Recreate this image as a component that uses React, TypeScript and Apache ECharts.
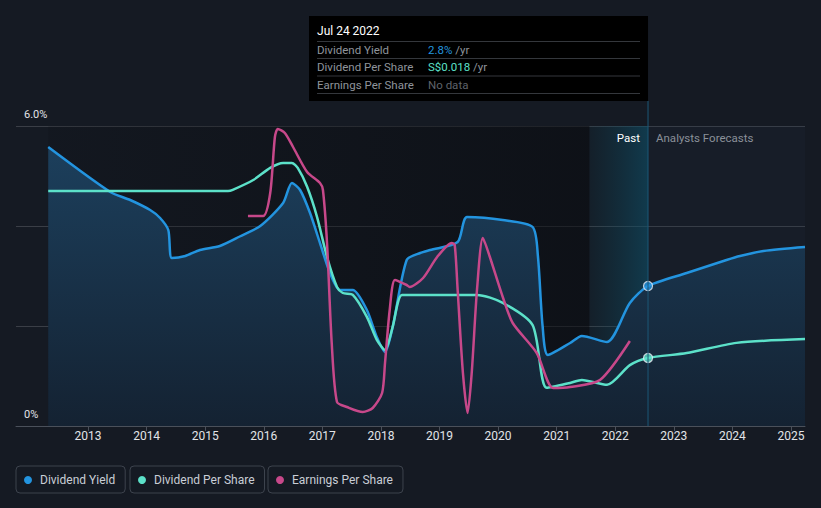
import React, { useEffect, useRef } from 'react';
import * as echarts from 'echarts';

const BG = '#151a23';
const FONT = 'Roboto, "Noto Sans", sans-serif';

const yearTicks = [2013, 2014, 2015, 2016, 2017, 2018, 2019, 2020, 2021, 2022, 2023, 2024, 2025];
const X_MIN = 2011.77;
const X_MAX = 2025.24;
const TODAY = 2022.56;
const PAST_BAND_START = 2021.56;
const DATA_START = 2012.32;

const yieldYears = [2012.32, 2013.38, 2013.72, 2014.06, 2014.23, 2014.37, 2014.43, 2014.66, 2014.91, 2015.25, 2015.59, 2015.94, 2016.33, 2016.48, 2016.62, 2016.79, 2016.96, 2017.13, 2017.30, 2017.52, 2017.76, 2017.93, 2018.07, 2018.20, 2018.44, 2018.67, 2018.84, 2019.31, 2019.47, 2020.08, 2020.59, 2020.68, 2020.76, 2020.85, 2021.23, 2021.43, 2021.86, 2022.25, 2022.56, 2023.22, 2023.90, 2024.13, 2024.53, 2025.24];
const yieldValues = [5.58, 4.68, 4.52, 4.32, 4.16, 3.92, 3.36, 3.40, 3.52, 3.60, 3.79, 4.00, 4.46, 4.86, 4.72, 4.26, 3.66, 3.06, 2.72, 2.72, 2.32, 1.78, 1.48, 1.98, 3.32, 3.46, 3.52, 3.68, 4.18, 4.12, 3.98, 3.40, 2.00, 1.42, 1.66, 1.80, 1.68, 2.46, 2.80, 3.06, 3.32, 3.40, 3.50, 3.58];

const dpsYears = [2012.32, 2015.39, 2015.47, 2015.82, 2016.11, 2016.33, 2016.48, 2016.58, 2016.74, 2016.91, 2017.08, 2017.25, 2017.35, 2017.52, 2017.76, 2017.93, 2018.07, 2018.20, 2018.36, 2018.67, 2019.64, 2020.08, 2020.59, 2020.83, 2021.23, 2021.43, 2021.86, 2022.25, 2022.56, 2023.22, 2024.07, 2025.24];
const dpsValues = [0.0622, 0.0622, 0.0625, 0.0651, 0.0683, 0.0696, 0.0696, 0.0683, 0.0633, 0.0553, 0.0447, 0.0368, 0.0352, 0.0347, 0.0289, 0.0228, 0.0201, 0.0262, 0.0347, 0.0347, 0.0347, 0.0326, 0.0267, 0.0101, 0.0114, 0.0122, 0.0109, 0.0161, 0.0180, 0.0193, 0.0220, 0.0230];

const epsYears = [2015.73, 2015.99, 2016.11, 2016.19, 2016.24, 2016.36, 2016.50, 2016.74, 2016.96, 2017.01, 2017.08, 2017.16, 2017.25, 2017.42, 2017.69, 2017.86, 2018.02, 2018.07, 2018.15, 2018.24, 2018.44, 2018.49, 2018.72, 2018.96, 2019.21, 2019.26, 2019.31, 2019.40, 2019.48, 2019.55, 2019.64, 2019.74, 2019.86, 2020.08, 2020.25, 2020.66, 2020.94, 2021.23, 2021.74, 2022.25];
const epsValues = [0.084, 0.084, 0.0932, 0.1156, 0.1188, 0.1172, 0.1116, 0.1016, 0.0972, 0.0944, 0.0732, 0.0332, 0.0096, 0.0076, 0.0056, 0.0072, 0.0132, 0.0252, 0.0464, 0.0584, 0.0564, 0.0556, 0.0592, 0.0676, 0.0732, 0.0724, 0.0544, 0.0212, 0.0052, 0.0212, 0.0544, 0.0752, 0.0676, 0.0516, 0.0412, 0.0292, 0.0152, 0.0156, 0.0184, 0.034];

const tooltipDate = 'Jul 24 2022';
const tooltipYield = '2.8%';
const tooltipDps = 'S$0.018';

const C_YIELD = '#2394df';
const C_DPS = '#5ce1c9';
const C_EPS = '#c7488a';

const zip = (xs: number[], ys: number[]) => xs.map((x, i) => [x, ys[i]]);

export default function App() {
  const ref = useRef<HTMLDivElement>(null);
  useEffect(() => {
    document.body.style.margin = '0';
    document.body.style.background = BG;
    const chart = echarts.init(ref.current!, null, { renderer: 'svg' });
    const yieldData = zip(yieldYears, yieldValues);
    const dpsData = zip(dpsYears, dpsValues);
    const epsData = zip(epsYears, epsValues);
    const todayYield = yieldValues[yieldYears.indexOf(TODAY)];
    const todayDps = dpsValues[dpsYears.indexOf(TODAY)];
    const smooth = 0.25;

    const legendCommon = {
      top: 466,
      icon: 'circle',
      itemWidth: 14,
      itemHeight: 8,
      borderColor: '#3d434d',
      borderWidth: 1,
      borderRadius: 4,
      padding: [8, 10, 7, 8],
      textStyle: { color: '#c9ced6', fontSize: 12, fontFamily: FONT },
      selectedMode: false,
    };

    chart.setOption({
      animation: false,
      backgroundColor: BG,
      textStyle: { fontFamily: FONT },
      grid: { left: 16, right: 16, top: 126, bottom: 82 },
      legend: [
        { ...legendCommon, left: 16, data: ['Dividend Yield'] },
        { ...legendCommon, left: 130, data: ['Dividend Per Share'] },
        { ...legendCommon, left: 268, data: ['Earnings Per Share'] },
      ],
      xAxis: {
        type: 'value',
        min: X_MIN,
        max: X_MAX,
        axisLine: { lineStyle: { color: '#4a505a' } },
        axisTick: { customValues: yearTicks, length: 5, lineStyle: { color: '#4a505a' } },
        axisLabel: {
          customValues: yearTicks,
          color: '#e2e4e8',
          fontSize: 12,
          margin: 4,
          fontFamily: FONT,
          formatter: (v: number) => String(Math.round(v)),
        },
        splitLine: { show: false },
      },
      yAxis: [
        {
          type: 'value',
          min: 0,
          max: 6,
          interval: 2,
          axisLine: { show: false },
          axisTick: { show: false },
          splitLine: { lineStyle: { color: 'rgba(255,255,255,0.16)' } },
          axisLabel: {
            inside: true,
            margin: 8,
            color: '#e2e4e8',
            fontSize: 11,
            fontFamily: FONT,
            verticalAlign: 'bottom',
            padding: [0, 0, 6, 0],
            formatter: (v: number) => (v === 0 ? '0%' : v === 6 ? '6.0%' : ''),
          },
        },
        { type: 'value', min: 0, max: 0.0794, show: false },
        { type: 'value', min: 0, max: 0.12, show: false },
      ],
      series: [
        {
          name: 'pastBg',
          type: 'line',
          z: 0,
          data: [[DATA_START, 0]],
          symbol: 'none',
          lineStyle: { opacity: 0 },
          silent: true,
          markArea: {
            silent: true,
            data: [
              [
                {
                  xAxis: DATA_START,
                  itemStyle: {
                    color: new echarts.graphic.LinearGradient(0, 0, 1, 0, [
                      { offset: 0, color: 'rgba(8,10,14,0.15)' },
                      { offset: 1, color: 'rgba(8,10,14,0.55)' },
                    ]),
                  },
                },
                { xAxis: PAST_BAND_START },
              ],
              [
                { xAxis: TODAY, itemStyle: { color: 'rgba(40,60,85,0.12)' } },
                { xAxis: X_MAX },
              ],
            ],
          },
        },
        {
          name: 'yieldFill',
          type: 'line',
          z: 1,
          data: yieldData,
          smooth,
          symbol: 'none',
          silent: true,
          lineStyle: { width: 0, opacity: 0 },
          areaStyle: {
            opacity: 1,
            color: new echarts.graphic.LinearGradient(0, 0, 0, 1, [
              { offset: 0, color: '#1c3f5c' },
              { offset: 1, color: '#142232' },
            ]),
          },
        },
        {
          name: 'band',
          type: 'line',
          z: 2,
          data: [[TODAY, 0]],
          symbol: 'none',
          lineStyle: { opacity: 0 },
          silent: true,
          markArea: {
            silent: true,
            data: [
              [
                {
                  xAxis: PAST_BAND_START,
                  itemStyle: {
                    color: new echarts.graphic.LinearGradient(0, 0, 1, 0, [
                      { offset: 0, color: 'rgba(14,70,90,0.12)' },
                      { offset: 1, color: 'rgba(14,80,105,0.6)' },
                    ]),
                  },
                },
                { xAxis: TODAY },
              ],
            ],
          },
        },
        {
          name: 'Dividend Yield',
          type: 'line',
          z: 3,
          data: yieldData,
          smooth,
          symbol: 'none',
          color: C_YIELD,
          lineStyle: { width: 2.5, color: C_YIELD },
        },
        {
          name: 'Dividend Per Share',
          type: 'line',
          z: 3,
          yAxisIndex: 1,
          data: dpsData,
          smooth,
          symbol: 'none',
          color: C_DPS,
          lineStyle: { width: 2.5, color: C_DPS },
        },
        {
          name: 'Earnings Per Share',
          type: 'line',
          z: 3,
          yAxisIndex: 2,
          data: epsData,
          smooth,
          symbol: 'none',
          color: C_EPS,
          lineStyle: { width: 2.5, color: C_EPS },
        },
        {
          name: 'yieldNow',
          type: 'scatter',
          z: 4,
          data: [[TODAY, todayYield]],
          symbolSize: 9,
          itemStyle: { color: C_YIELD, borderColor: '#e8eef5', borderWidth: 1.2 },
        },
        {
          name: 'dpsNow',
          type: 'scatter',
          z: 4,
          yAxisIndex: 1,
          data: [[TODAY, todayDps]],
          symbolSize: 9,
          itemStyle: { color: C_DPS, borderColor: '#e8eef5', borderWidth: 1.2 },
        },
      ],
    });

    const px = chart.convertToPixel({ xAxisIndex: 0 }, TODAY) as number;
    const topY = chart.convertToPixel({ yAxisIndex: 0 }, 6) as number;
    const baseY = chart.convertToPixel({ yAxisIndex: 0 }, 0) as number;
    const boxW = 339;
    const boxX = px - boxW;
    const boxY = 16;
    const boxH = 85;
    const grey = '#8f949b';
    const txt = (x: number, y: number, style: any) => ({
      type: 'text',
      x,
      y,
      z: 12,
      silent: true,
      style: { fontSize: 11.5, fontFamily: FONT, verticalAlign: 'middle', ...style },
    });
    const rowLine = (y: number) => ({
      type: 'line',
      z: 12,
      shape: { x1: boxX + 8, y1: y, x2: px - 8, y2: y },
      style: { stroke: '#34373c', lineWidth: 1 },
      silent: true,
    });
    const valueText = (x: number, y: number, val: string, color: string) =>
      txt(x, y, {
        text: '{a|' + val + '} {b|/yr}',
        rich: {
          a: { fill: color, fontSize: 11.5, fontFamily: FONT },
          b: { fill: grey, fontSize: 11.5, fontFamily: FONT },
        },
      });
    chart.setOption({
      graphic: [
        {
          type: 'line',
          shape: { x1: px, y1: boxY + boxH, x2: px, y2: baseY },
          style: { stroke: '#1b5877', lineWidth: 1 },
          z: 5,
          silent: true,
        },
        {
          type: 'rect',
          shape: { x: boxX, y: boxY, width: boxW, height: boxH },
          style: { fill: '#000000' },
          z: 10,
          silent: true,
        },
        txt(boxX + 8, 31, { text: tooltipDate, fill: '#ffffff', fontSize: 12 }),
        rowLine(41.5),
        txt(boxX + 8, 49.5, { text: 'Dividend Yield', fill: grey }),
        valueText(boxX + 119, 49.5, tooltipYield, C_YIELD),
        rowLine(58.5),
        txt(boxX + 8, 67, { text: 'Dividend Per Share', fill: grey }),
        valueText(boxX + 119, 67, tooltipDps, C_DPS),
        rowLine(76),
        txt(boxX + 8, 84.5, { text: 'Earnings Per Share', fill: grey }),
        txt(boxX + 119, 84.5, { text: 'No data', fill: '#5f636a' }),
        rowLine(93.5),
        txt(px - 8, topY + 12, { text: 'Past', fill: '#ffffff', align: 'right' }),
        txt(px + 8, topY + 12, { text: 'Analysts Forecasts', fill: '#8a9099', align: 'left' }),
      ],
    });

    return () => chart.dispose();
  }, []);
  return <div ref={ref} style={{ position: 'fixed', left: 0, top: 0, width: 821, height: 508 }} />;
}
